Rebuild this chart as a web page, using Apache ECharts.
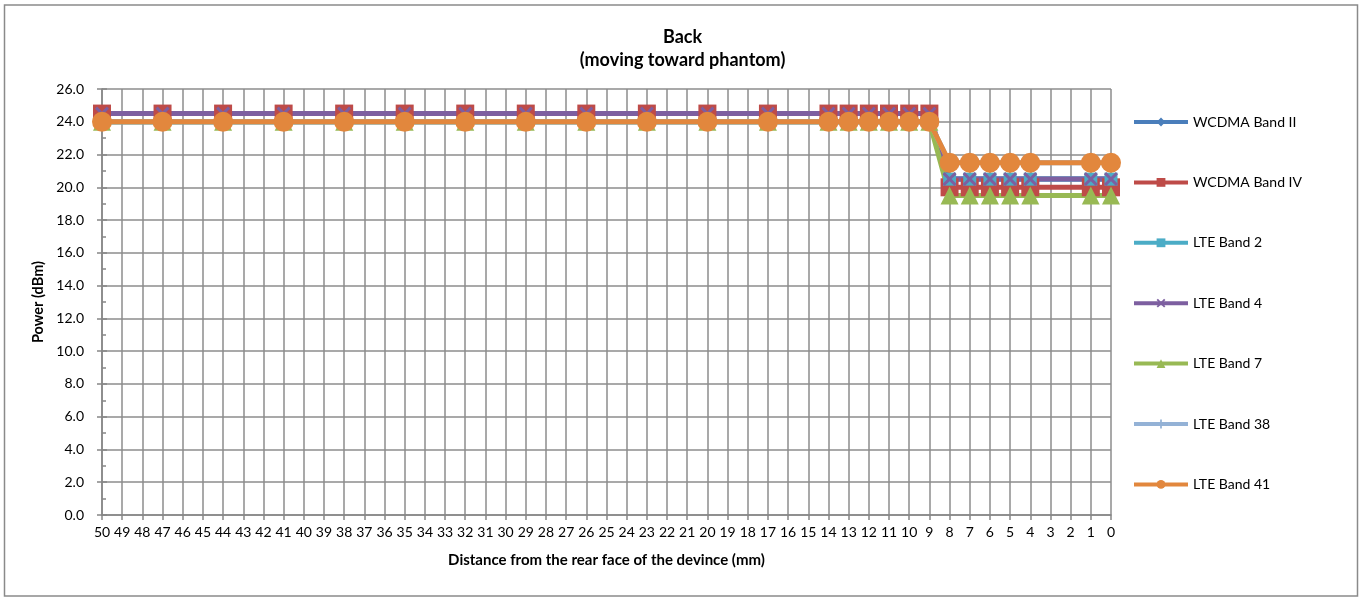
<!DOCTYPE html>
<html>
<head>
<meta charset="utf-8">
<script src="https://cdn.jsdelivr.net/npm/echarts@6/dist/echarts.min.js"></script>
<style>
html,body{margin:0;padding:0;background:#fff;}
#chart{width:1365px;height:599px;}
</style>
</head>
<body>
<div id="chart"></div>
<script>
// Category axis: distance (mm), from 50 down to 0
var categories = [];
for (var c = 50; c >= 0; c--) categories.push(String(c));

// Distances at which measurements were taken
var measuredAt = [50,47,44,41,38,35,32,29,26,23,20,17,14,13,12,11,10,9,8,7,6,5,4,1,0];

var wcdmaBandII = [24.0,24.0,24.0,24.0,24.0,24.0,24.0,24.0,24.0,24.0,24.0,24.0,24.0,24.0,24.0,24.0,24.0,24.0,20.5,20.5,20.5,20.5,20.5,20.5,20.5];
var wcdmaBandIV = [24.5,24.5,24.5,24.5,24.5,24.5,24.5,24.5,24.5,24.5,24.5,24.5,24.5,24.5,24.5,24.5,24.5,24.5,20.0,20.0,20.0,20.0,20.0,20.0,20.0];
var lteBand2    = [24.0,24.0,24.0,24.0,24.0,24.0,24.0,24.0,24.0,24.0,24.0,24.0,24.0,24.0,24.0,24.0,24.0,24.0,20.5,20.5,20.5,20.5,20.5,20.5,20.5];
var lteBand4    = [24.5,24.5,24.5,24.5,24.5,24.5,24.5,24.5,24.5,24.5,24.5,24.5,24.5,24.5,24.5,24.5,24.5,24.5,20.5,20.5,20.5,20.5,20.5,20.5,20.5];
var lteBand7    = [24.0,24.0,24.0,24.0,24.0,24.0,24.0,24.0,24.0,24.0,24.0,24.0,24.0,24.0,24.0,24.0,24.0,24.0,19.5,19.5,19.5,19.5,19.5,19.5,19.5];
var lteBand38   = [24.0,24.0,24.0,24.0,24.0,24.0,24.0,24.0,24.0,24.0,24.0,24.0,24.0,24.0,24.0,24.0,24.0,24.0,21.5,21.5,21.5,21.5,21.5,21.5,21.5];
var lteBand41   = [24.0,24.0,24.0,24.0,24.0,24.0,24.0,24.0,24.0,24.0,24.0,24.0,24.0,24.0,24.0,24.0,24.0,24.0,21.5,21.5,21.5,21.5,21.5,21.5,21.5];

var seriesNames = ['WCDMA Band II','WCDMA Band IV','LTE Band 2','LTE Band 4','LTE Band 7','LTE Band 38','LTE Band 41'];
var seriesValues = [wcdmaBandII, wcdmaBandIV, lteBand2, lteBand4, lteBand7, lteBand38, lteBand41];

function toCategoryData(vals) {
  var out = categories.map(function(){ return null; });
  measuredAt.forEach(function(d, i){
    var idx = categories.indexOf(String(d));
    out[idx] = vals[i];
  });
  return out;
}

var FONT = 'Lato, "Open Sans", sans-serif';
var colors = ['#4A7EBB','#BE4B48','#4BACC6','#7D5FA0','#98B954','#94B2D6','#E2873D'];
var symbols = [
  'diamond',
  'rect',
  'rect',
  'path://M0,1.5 L1.5,0 L5,3.5 L8.5,0 L10,1.5 L6.5,5 L10,8.5 L8.5,10 L5,6.5 L1.5,10 L0,8.5 L3.5,5Z',
  'triangle',
  'path://M4,0H6V4H10V6H6V10H4V6H0V4H4Z',
  'circle'
];
var sizes = [9, 18, 13, 14, 18, 10, 20];

var series = seriesNames.map(function(name, i){
  return {
    name: name,
    type: 'line',
    data: toCategoryData(seriesValues[i]),
    connectNulls: true,
    symbol: symbols[i],
    symbolSize: sizes[i],
    showAllSymbol: true,
    lineStyle: { color: colors[i], width: 5 },
    itemStyle: { color: colors[i] },
    emphasis: { disabled: true },
    animation: false
  };
});

var chart = echarts.init(document.getElementById('chart'));
chart.setOption({
  animation: false,
  color: colors,
  title: {
    text: 'Back\n(moving toward phantom)',
    left: 'center',
    top: 21,
    textStyle: { fontFamily: FONT, fontSize: 18, fontWeight: 'bold', color: '#000', lineHeight: 23 }
  },
  legend: {
    orient: 'vertical',
    left: 1127,
    top: 110,
    itemWidth: 54,
    itemHeight: 11,
    itemGap: 46.4,
    data: seriesNames,
    lineStyle: { width: 4 },
    textStyle: { fontFamily: FONT, fontSize: 14, color: '#000' }
  },
  grid: { left: 102, right: 254, top: 89, bottom: 84, containLabel: false },
  xAxis: {
    type: 'category',
    data: categories,
    boundaryGap: false,
    name: 'Distance from the rear face of the devince (mm)',
    nameLocation: 'middle',
    nameGap: 38,
    nameTextStyle: { fontFamily: FONT, fontSize: 15, fontWeight: 'bold', color: '#000' },
    axisLine: { lineStyle: { color: '#868686', width: 1.5 } },
    axisTick: { show: true, length: 5, interval: 0, lineStyle: { color: '#868686', width: 1.5 } },
    axisLabel: { interval: 0, fontFamily: FONT, fontSize: 14, color: '#000', margin: 10 },
    splitLine: { show: true, interval: 0, lineStyle: { color: '#8c8c8c', width: 1.5 } }
  },
  yAxis: [{
    type: 'value',
    min: 0, max: 26, interval: 2,
    name: 'Power (dBm)',
    nameLocation: 'middle',
    nameGap: 56,
    nameTextStyle: { fontFamily: FONT, fontSize: 14.5, fontWeight: 'bold', color: '#000' },
    axisLine: { show: true, lineStyle: { color: '#868686', width: 1.5 } },
    axisTick: { show: true, inside: true, length: 5, lineStyle: { color: '#868686', width: 1.5 } },
    minorTick: { show: true, splitNumber: 2, length: 4, lineStyle: { color: '#868686', width: 1.5 } },
    axisLabel: { fontFamily: FONT, fontSize: 14, color: '#000', margin: 18, formatter: function(v){ return v.toFixed(1); } },
    splitLine: { show: true, lineStyle: { color: '#8c8c8c', width: 1.5 } }
  }, {
    type: 'value',
    position: 'left',
    min: 0, max: 26, interval: 2,
    axisLine: { show: false },
    axisTick: { show: true, inside: false, length: 5, lineStyle: { color: '#868686', width: 1.5 } },
    axisLabel: { show: false },
    splitLine: { show: false }
  }],
  graphic: [{
    type: 'rect',
    shape: { x: 4.5, y: 5, width: 1353, height: 591 },
    style: { fill: 'none', stroke: '#8a8a8a', lineWidth: 1.5 },
    silent: true
  }],
  series: series
});
</script>
</body>
</html>
